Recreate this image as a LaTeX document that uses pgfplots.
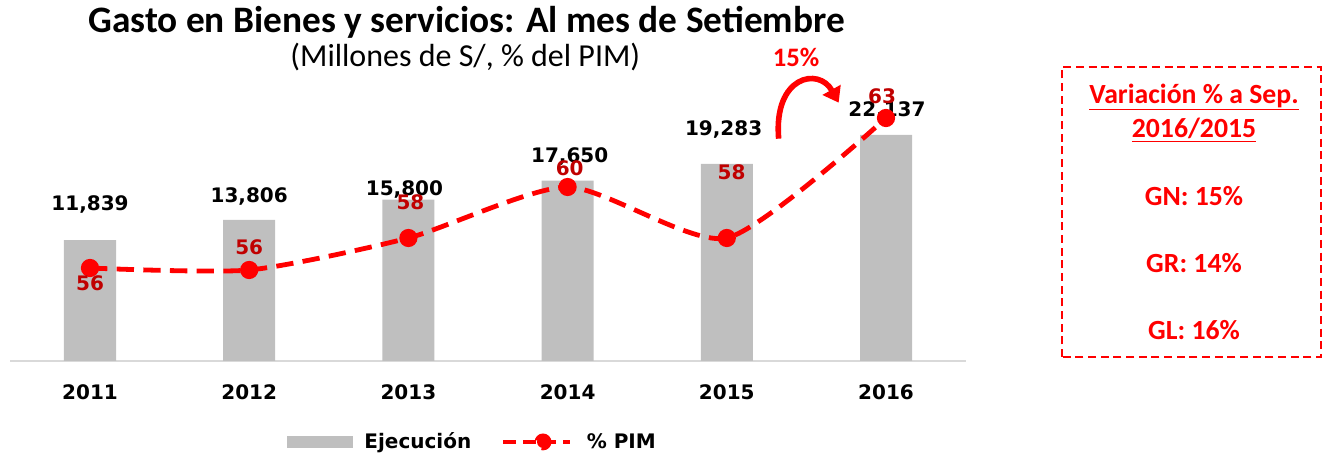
\documentclass[border=0pt]{standalone}
\usepackage{pgfplots}
\pgfplotsset{compat=1.18}
\usepackage{pgfplotstable}
\usepackage{fontspec}
\setmainfont{Carlito}
\newfontfamily\dv{DejaVu Sans}
\usetikzlibrary{arrows.meta}
\definecolor{barcol}{RGB}{191,191,191}
\definecolor{lblred}{RGB}{192,0,0}
\definecolor{bred}{RGB}{255,0,0}

\pgfplotstableread{
x y
0 11839
1 13806
2 15800
3 17650
4 19283
5 22137
}\bars

\pgfplotstableread{
x y lab
0 15267 11,839
1 16050 13,806
1.975 16735 15,800
3.013 19965 17,650
3.98 22607 19,283
5.006 24467 22,137
}\barlabels

\pgfplotstableread{
x y
0 56.0
1 55.9
2 57.5
3 60.05
4 57.5
5 63.5
}\pim

\pgfplotstableread{
x y lab
0 55.25 56
1 57.05 56
2.013 59.3 58
3.013 61.0 60
4.03 60.8 58
4.975 64.6 63
}\pimlabels

\begin{document}
\begin{tikzpicture}
\path[use as bounding box] (0pt,0pt) rectangle (993pt,342pt);

% titles
\node[font=\bfseries\fontsize{28}{32}\selectfont] at (350pt,325pt) {Gasto en Bienes y servicios: Al mes de Setiembre};
\node[font=\fontsize{24}{28}\selectfont] at (349pt,299pt) {(Millones de S/, \% del PIM)};
\node[font=\bfseries\fontsize{20}{24}\selectfont, text=bred] at (597pt,299.25pt) {15\%};

\begin{axis}[
  at={(7.8pt,71.25pt)}, anchor=south west,
  scale only axis, width=716.4pt, height=210.75pt,
  xmin=-0.5, xmax=5.5, ymin=0, ymax=27500,
  axis x line*=bottom, axis y line=none,
  x axis line style={draw=black!15, line width=1.5pt, -},
  xtick={0,1,2,3,4,5},
  xticklabels={2011,2012,2013,2014,2015,2016},
  major tick length=0pt,
  x tick label style={font=\dv\bfseries\fontsize{15}{18}\selectfont, yshift=-14pt},
  clip=false,
]
\addplot[ybar, bar width=39pt, bar shift=0pt, fill=barcol, draw=none] table[x=x,y=y] {\bars};
\addplot[draw=none, mark=none, nodes near coords, point meta=explicit symbolic,
  nodes near coords style={anchor=center, font=\dv\bfseries\fontsize{15}{18}\selectfont, text=black}]
  table[x=x,y=y,meta=lab] {\barlabels};
\end{axis}

\begin{axis}[
  at={(7.8pt,71.25pt)}, anchor=south west,
  scale only axis, width=716.4pt, height=210.75pt,
  xmin=-0.5, xmax=5.5, ymin=51.35, ymax=65.4,
  axis lines=none, ticks=none, clip=false,
  legend style={at={(0.4838,-0.288)}, anchor=center, draw=none, fill=none,
    legend columns=2, font=\dv\bfseries\fontsize{15}{18}\selectfont,
    /tikz/every even column/.append style={column sep=20pt},
    inner sep=0pt},
  legend cell align=left,
]
\addlegendimage{legend image code/.code={\fill[barcol] (0pt,-4.2pt) rectangle (49pt,4.2pt);
   \path (56pt,0pt);}}
\addlegendentry{Ejecución}
\addplot[color=bred, line width=3.6pt, dash pattern=on 13pt off 7pt, smooth, tension=0.4,
  mark=*, mark size=5pt, mark options={solid, fill=bred, draw=bred},
  legend image code/.code={
    \draw[bred, line width=3.6pt, dash pattern=on 10pt off 5pt] (0pt,0pt) -- (50pt,0pt);
    \fill[bred] (30pt,0pt) circle (4.5pt);
    \path (59pt,0pt);}]
  table[x=x,y=y] {\pim};
\addlegendentry{\% PIM}
\addplot[draw=none, mark=none, nodes near coords, point meta=explicit symbolic, forget plot,
  nodes near coords style={anchor=center, font=\dv\bfseries\fontsize{15}{18}\selectfont, text=lblred}]
  table[x=x,y=y,meta=lab] {\pimlabels};
\end{axis}

% curved arrow
\draw[bred, line width=4.2pt, -{Triangle[length=11pt,width=15pt]}]
  (584pt,238pt) .. controls (580pt,285pt) and (614pt,292pt) .. (629pt,265pt);

% variation box
\draw[bred, line width=1.8pt, dash pattern=on 6pt off 3.5pt] (796.5pt,74.25pt) rectangle (990.8pt,291.75pt);
\begin{scope}[every node/.style={font=\bfseries\fontsize{20.8}{25}\selectfont, text=bred}]
\node at (895.5pt,269.25pt) {\underline{Variación \% a Sep.}};
\node at (895.5pt,244.5pt) {\underline{2016/2015}};
\node at (895.5pt,195pt) {GN: 15\%};
\node at (895.5pt,144.75pt) {GR: 14\%};
\node at (895.5pt,94.5pt) {GL: 16\%};
\end{scope}
\end{tikzpicture}
\end{document}
